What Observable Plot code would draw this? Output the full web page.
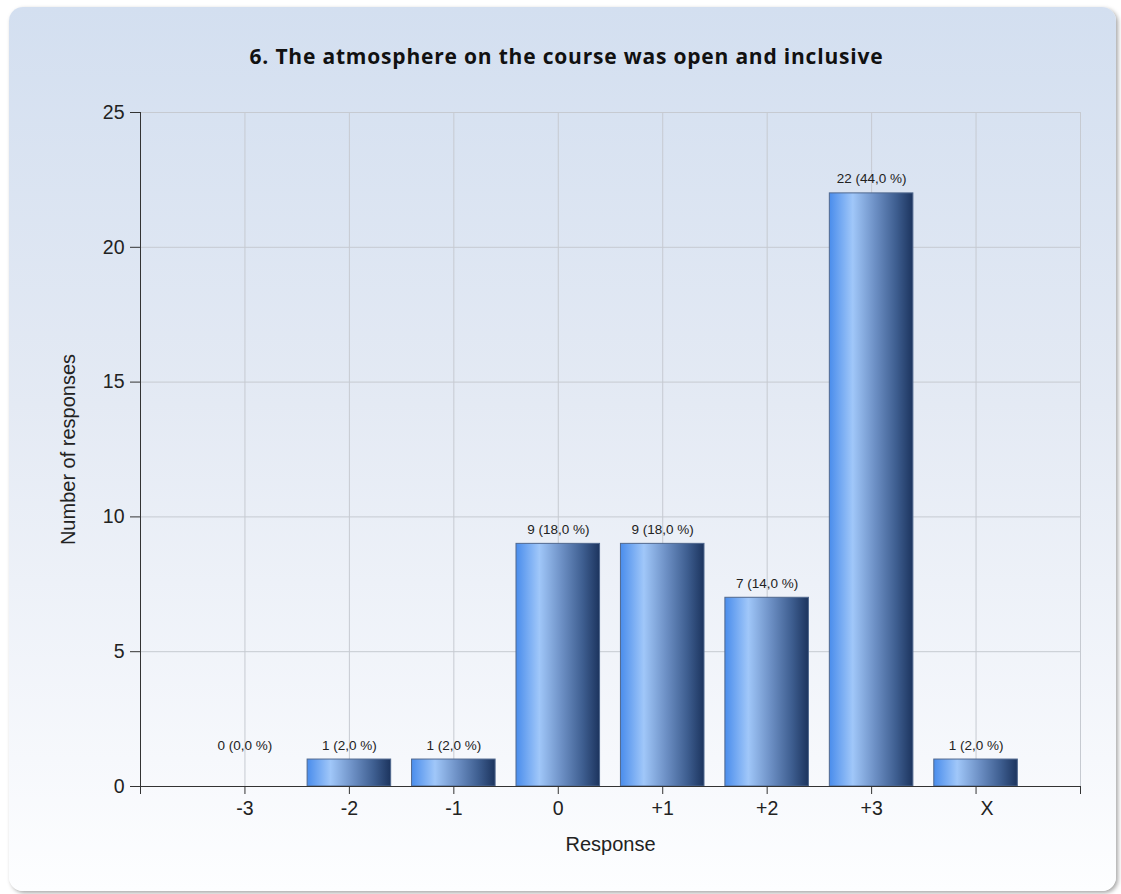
<!DOCTYPE html>
<html>
<head>
<meta charset="utf-8">
<script src="https://cdn.jsdelivr.net/npm/d3@7"></script>
<script src="https://cdn.jsdelivr.net/npm/@observablehq/plot@0.6"></script>
<style>
  html, body { margin: 0; padding: 0; background: #ffffff; width: 1121px; height: 894px; overflow: hidden; }
  #panel {
    position: absolute; left: 9px; top: 7px; width: 1107px; height: 884px;
    border-radius: 14px;
    background: linear-gradient(to bottom, #d3dff0 0%, #e4eaf4 45%, #f6f8fc 85%, #fdfeff 100%);
    box-shadow: 2px 2px 4px rgba(0,0,0,0.35);
  }
  #title {
    position: absolute; left: 0; top: 42px; width: 1133px; text-align: center;
    font-family: "Open Sans", sans-serif; font-weight: bold; font-size: 21px; letter-spacing: 0.8px; color: #111;
  }
  #chart { position: absolute; left: 0; top: 90px; }
</style>
</head>
<body>
<div id="panel"></div>
<div id="title">6. The atmosphere on the course was open and inclusive</div>
<div id="chart"></div>
<script>
const categories = ["-3", "-2", "-1", "0", "+1", "+2", "+3", "X"];
const counts = [0, 1, 1, 9, 9, 7, 22, 1];
const percents = ["0,0", "2,0", "2,0", "18,0", "18,0", "14,0", "44,0", "2,0"];
const yTicks = [0, 5, 10, 15, 20, 25];

const data = categories.map((c, i) => ({
  category: c,
  pos: i + 1,
  count: counts[i],
  label: `${counts[i]} (${percents[i]} %)`
}));

const font = '"Liberation Sans", Arial, sans-serif';
const n = categories.length;

const plot = Plot.plot({
  width: 1121,
  height: 776,
  marginLeft: 140,
  marginRight: 41,
  marginTop: 22,
  marginBottom: 80,
  style: { background: "transparent", fontFamily: font, color: "#222" },
  x: { type: "linear", domain: [0, n + 1] },
  y: { domain: [0, 25] },
  marks: [
    Plot.gridY(yTicks, { stroke: "#c6cad1", strokeOpacity: 1 }),
    Plot.gridX(d3.range(1, n + 2), { stroke: "#c6cad1", strokeOpacity: 1 }),
    Plot.rectY(data.filter(d => d.count > 0), {
      x1: d => d.pos - 0.4,
      x2: d => d.pos + 0.4,
      y: "count",
      fill: "url(#barGrad)",
      stroke: "#50688e",
      strokeWidth: 1
    }),
    Plot.text(data, {
      x: "pos", y: d => Math.max(d.count, 1), text: "label",
      dy: -10, lineAnchor: "bottom",
      fontSize: 13.5, fill: "#222", fontFamily: font
    }),
    Plot.ruleY([0], { stroke: "#333" }),
    Plot.ruleX([0], { stroke: "#333" }),
    Plot.axisY(yTicks, {
      tickSize: 10, tickPadding: 6, fontSize: 19.5, stroke: "#333", label: null
    }),
    Plot.axisY([], {
      fontSize: 20, label: "Number of responses", labelAnchor: "center", labelArrow: "none",
      labelOffset: 80
    }),
    Plot.axisX(d3.range(0, n + 2), {
      tickSize: 8, tickPadding: 7, fontSize: 19.5, stroke: "#333",
      tickFormat: d => (d >= 1 && d < n ? categories[d - 1] : ""),
      label: null
    }),
    Plot.axisX([n], {
      tickSize: 0, tickPadding: 15, fontSize: 19.5, dx: 11,
      tickFormat: d => categories[d - 1], label: null
    }),
    Plot.axisX([], {
      fontSize: 20, label: "Response", labelAnchor: "center", labelArrow: "none",
      labelOffset: 64
    })
  ]
});

const svg = d3.select(plot);
const grad = svg.insert("defs", ":first-child")
  .append("linearGradient")
  .attr("id", "barGrad")
  .attr("x1", "0").attr("x2", "1").attr("y1", "0").attr("y2", "0");
[
  [0, "#4a8dec"],
  [0.28, "#a0c7f9"],
  [0.55, "#6c8fc4"],
  [0.8, "#3e5e90"],
  [1, "#1c345e"]
].forEach(([o, c]) => grad.append("stop").attr("offset", o).attr("stop-color", c));

document.getElementById("chart").appendChild(plot);
</script>
</body>
</html>
